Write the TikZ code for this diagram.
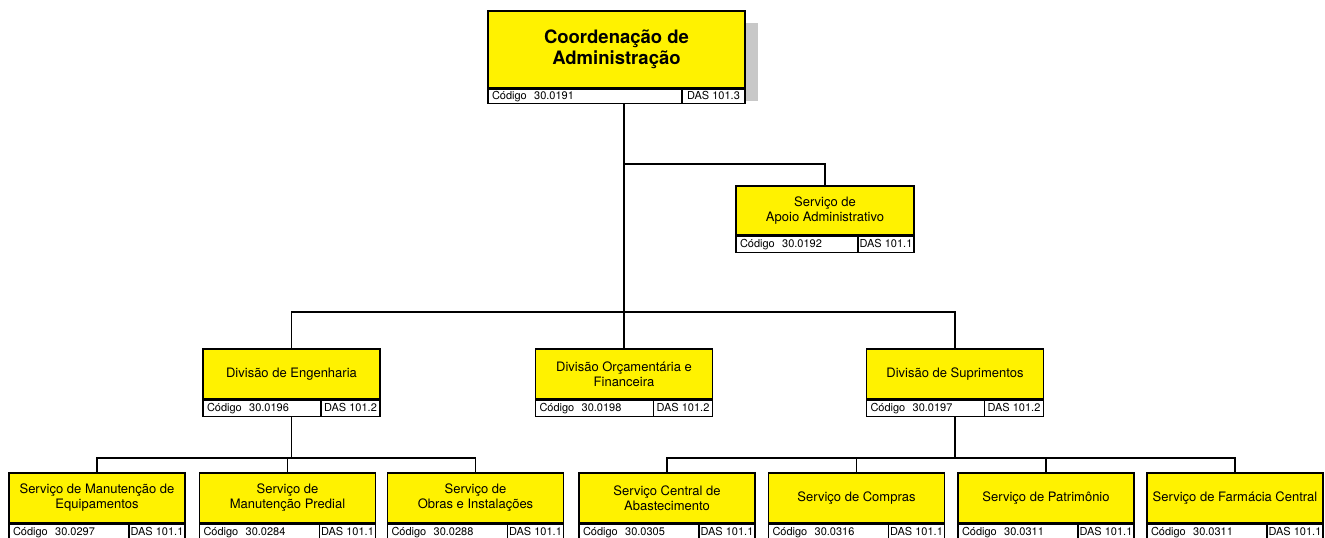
\documentclass[tikz,border=0pt]{standalone}
\usepackage{fontspec}
\setmainfont{TeX Gyre Heros}
\usetikzlibrary{positioning}
\definecolor{unityellow}{HTML}{FFF200}
\definecolor{shadowgray}{HTML}{C8C8C8}

\begin{document}
\begin{tikzpicture}[x=1pt, y=-1pt,
  unitbox/.style={draw=black, fill=unityellow, line width=1.6pt, inner sep=2pt,
    align=center, font=\fontsize{13}{15}\selectfont},
  codecell/.style={draw=black, fill=white, line width=1.6pt, minimum height=16pt,
    inner xsep=4pt, inner ysep=0pt, text width=#1, align=left, anchor=north west,
    text height=8pt, text depth=2.5pt, font=\fontsize{11}{12}\selectfont},
  dascell/.style={draw=black, fill=white, line width=1.6pt, minimum height=16pt,
    inner xsep=1pt, inner ysep=0pt, minimum width=#1, anchor=north east,
    text height=8pt, text depth=2.5pt, font=\fontsize{11}{12}\selectfont},
  connector/.style={draw=black, line width=1.6pt}]

\useasboundingbox (0,0) rectangle (1325,538);

% Shadow of the top unit
\fill[shadowgray] (745,23) rectangle (758,101);

% Top unit
\node[unitbox, minimum width=257pt, minimum height=77pt,
      font=\fontsize{18.5}{21}\selectfont\bfseries] (coord) at (616.5,49.5)
  {Coordenação de\\Administração};
\node[codecell=186pt, minimum height=14pt] (coordcode) at (coord.south west) {Código\ \ 30.0191};
\node[dascell=63pt, minimum height=14pt] (coorddas) at (coord.south east) {DAS 101.3};

% Staff unit
\node[unitbox, minimum width=178pt, minimum height=49pt] (apoio) at (825,210.5)
  {Serviço de\\Apoio Administrativo};
\node[codecell=114pt] (apoiocode) at (apoio.south west) {Código\ \ 30.0192};
\node[dascell=56pt] (apoiodas) at (apoio.south east) {DAS 101.1};

% Divisions
\node[unitbox, minimum width=177pt, minimum height=50pt] (eng) at (291.5,374)
  {Divisão de Engenharia};
\node[codecell=110pt] (engcode) at (eng.south west) {Código\ \ 30.0196};
\node[dascell=59pt] (engdas) at (eng.south east) {DAS 101.2};

\node[unitbox, minimum width=177pt, minimum height=50pt] (orc) at (624,374)
  {Divisão Orçamentária e\\Financeira};
\node[codecell=110pt] (orccode) at (orc.south west) {Código\ \ 30.0198};
\node[dascell=59pt] (orcdas) at (orc.south east) {DAS 101.2};

\node[unitbox, minimum width=177pt, minimum height=50pt] (sup) at (955,374)
  {Divisão de Suprimentos};
\node[codecell=110pt] (supcode) at (sup.south west) {Código\ \ 30.0197};
\node[dascell=59pt] (supdas) at (sup.south east) {DAS 101.2};

% Services under Engenharia
\node[unitbox, minimum width=176pt, minimum height=50pt] (sequip) at (97,498)
  {Serviço de Manutenção de\\Equipamentos};
\node[codecell=112pt] (sequipcode) at (sequip.south west) {Código\ \ 30.0297};
\node[dascell=56pt] (sequipdas) at (sequip.south east) {DAS 101.1};

\node[unitbox, minimum width=176pt, minimum height=50pt] (spredial) at (287.5,498)
  {Serviço de\\Manutenção Predial};
\node[codecell=112pt] (spredialcode) at (spredial.south west) {Código\ \ 30.0284};
\node[dascell=56pt] (spredialdas) at (spredial.south east) {DAS 101.1};

\node[unitbox, minimum width=176pt, minimum height=50pt] (sobras) at (475.5,498)
  {Serviço de\\Obras e Instalações};
\node[codecell=112pt] (sobrascode) at (sobras.south west) {Código\ \ 30.0288};
\node[dascell=56pt] (sobrasdas) at (sobras.south east) {DAS 101.1};

% Services under Suprimentos
\node[unitbox, minimum width=176pt, minimum height=50pt] (scentral) at (667,498)
  {Serviço Central de\\Abastecimento};
\node[codecell=112pt] (scentralcode) at (scentral.south west) {Código\ \ 30.0305};
\node[dascell=56pt] (scentraldas) at (scentral.south east) {DAS 101.1};

\node[unitbox, minimum width=176pt, minimum height=50pt] (scompras) at (856.5,498)
  {Serviço de Compras};
\node[codecell=112pt] (scomprascode) at (scompras.south west) {Código\ \ 30.0316};
\node[dascell=56pt] (scomprasdas) at (scompras.south east) {DAS 101.1};

\node[unitbox, minimum width=176pt, minimum height=50pt] (spatrim) at (1046,498)
  {Serviço de Patrimônio};
\node[codecell=112pt] (spatrimcode) at (spatrim.south west) {Código\ \ 30.0311};
\node[dascell=56pt] (spatrimdas) at (spatrim.south east) {DAS 101.1};

\node[unitbox, minimum width=176pt, minimum height=50pt] (sfarmacia) at (1235,498)
  {Serviço de Farmácia Central};
\node[codecell=112pt] (sfarmaciacode) at (sfarmacia.south west) {Código\ \ 30.0311};
\node[dascell=56pt] (sfarmaciadas) at (sfarmacia.south east) {DAS 101.1};

% Forks of the tree
\coordinate (apoiofork) at (624,164);
\coordinate (divfork) at (624,312);
\coordinate (engfork) at (291.5,458);
\coordinate (supfork) at (955,458);

% Connectors
\draw[connector] (coordcode.south -| orc.north) -- (orc.north);
\draw[connector] (apoiofork) -| (apoio.north);
\draw[connector] (eng.north) |- (divfork) -| (sup.north);

\draw[connector] (eng.south |- engcode.south) -- (engfork);
\draw[connector] (sequip.north) |- (engfork) -| (sobras.north);
\draw[connector] (spredial.north) -- (spredial.north |- engfork);

\draw[connector] (sup.south |- supcode.south) -- (supfork);
\draw[connector] (scentral.north) |- (supfork) -| (sfarmacia.north);
\draw[connector] (scompras.north) -- (scompras.north |- supfork);
\draw[connector] (spatrim.north) -- (spatrim.north |- supfork);

\end{tikzpicture}
\end{document}
